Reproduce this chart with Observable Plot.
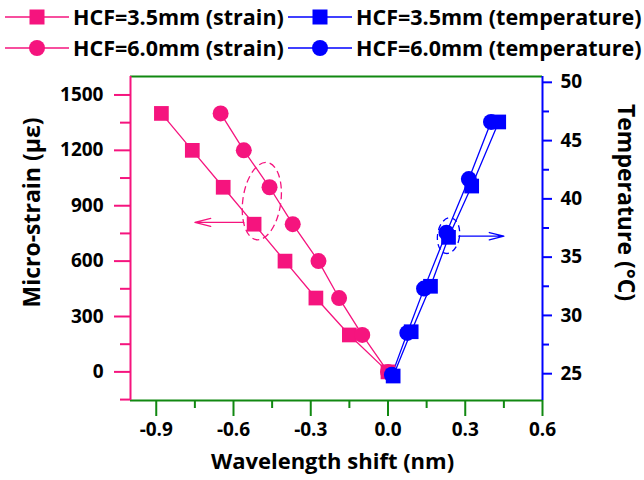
<!DOCTYPE html>
<html><head><meta charset="utf-8">
<script src="https://cdn.jsdelivr.net/npm/d3@7"></script>
<script src="https://cdn.jsdelivr.net/npm/@observablehq/plot@0.6"></script>
<style>
body{margin:0;background:#fff;font-family:"Open Sans",sans-serif;}
#wrap{position:relative;width:644px;height:480px;overflow:hidden;}
#wrap svg.plot{position:absolute;left:0;top:0;}
.leg{position:absolute;font-weight:700;font-size:21.5px;line-height:1;white-space:nowrap;color:#000;transform:translateY(-50%);}
.ico{position:absolute;}
</style></head><body><div id="wrap"></div>
<script>
// ---- data ----
const strainLevels = [1400, 1200, 1000, 800, 600, 400, 200, 0];
const shiftStrain35 = [-0.88, -0.76, -0.64, -0.52, -0.40, -0.28, -0.15, 0.0];
const shiftStrain60 = [-0.65, -0.56, -0.46, -0.37, -0.27, -0.19, -0.10, 0.0];
const shiftTemp35 = [0.02, 0.09, 0.165, 0.235, 0.325, 0.43];
const temp35 = [24.8, 28.6, 32.5, 36.7, 41.1, 46.6];
const shiftTemp60 = [0.015, 0.075, 0.14, 0.227, 0.314, 0.40];
const temp60 = [24.9, 28.5, 32.3, 37.1, 41.7, 46.6];

const xTicks = [-0.9, -0.6, -0.3, 0.0, 0.3, 0.6];
const xMinor = [-0.75, -0.45, -0.15, 0.15, 0.45];
const yTicks = [0, 300, 600, 900, 1200, 1500];
const yMinor = [-150, 150, 450, 750, 1050, 1350];
const tTicks = [25, 30, 35, 40, 45, 50];
const tMinor = [27.5, 32.5, 37.5, 42.5, 47.5];

const legendLabels = ["HCF=3.5mm (strain)", "HCF=3.5mm (temperature)", "HCF=6.0mm (strain)", "HCF=6.0mm (temperature)"];

const xDomain = [-1.0, 0.6];
const yDomain = [-155, 1600];
const tDomain = [22.7, 50.5];

const pink = "#F5147E", blue = "#0000FF", green = "#118811";

// map temperature onto the strain y scale (secondary axis)
const tToY = t => yDomain[0] + (t - tDomain[0]) / (tDomain[1] - tDomain[0]) * (yDomain[1] - yDomain[0]);
const yToT = y => tDomain[0] + (y - yDomain[0]) / (yDomain[1] - yDomain[0]) * (tDomain[1] - tDomain[0]);

const s35 = strainLevels.map((v, i) => ({x: shiftStrain35[i], y: v}));
const s60 = strainLevels.map((v, i) => ({x: shiftStrain60[i], y: v}));
const t35 = temp35.map((t, i) => ({x: shiftTemp35[i], y: tToY(t)}));
const t60 = temp60.map((t, i) => ({x: shiftTemp60[i], y: tToY(t)}));

// annotation: dashed ellipses and arrows
const pinkEllipse = [{x: -0.49, y: 925}];
const blueEllipse = [{x: 0.235, y: tToY(36.85)}];
const pinkArrow = [{x1: -0.56, y1: 810, x2: -0.75, y2: 810}];
const blueArrow = [{x1: 0.275, y1: tToY(36.8), x2: 0.45, y2: tToY(36.8)}];

function ellipseSymbol(rx, ry) {
  const k = 0.5523;
  return {draw(c) {
    c.moveTo(rx, 0);
    c.bezierCurveTo(rx, ry * k, rx * k, ry, 0, ry);
    c.bezierCurveTo(-rx * k, ry, -rx, ry * k, -rx, 0);
    c.bezierCurveTo(-rx, -ry * k, -rx * k, -ry, 0, -ry);
    c.bezierCurveTo(rx * k, -ry, rx, -ry * k, rx, 0);
    c.closePath();
  }};
}

const font = {fontSize: 19, fontWeight: "bold", fill: "black"};
const titleFont = {fontWeight: "bold", fill: "black", textAnchor: "middle"};

const chart = Plot.plot({
  width: 644, height: 480,
  marginTop: 76, marginBottom: 80, marginLeft: 130, marginRight: 102,
  style: {fontFamily: "Open Sans, sans-serif", background: "transparent"},
  x: {domain: xDomain, axis: null},
  y: {domain: yDomain, axis: null},
  marks: [
    // frame lines
    Plot.ruleY([yDomain[1]], {stroke: green, strokeWidth: 2}),
    Plot.ruleY([yDomain[0]], {stroke: green, strokeWidth: 2}),
    Plot.ruleX([xDomain[0]], {stroke: pink, strokeWidth: 2}),
    Plot.ruleX([xDomain[1]], {stroke: blue, strokeWidth: 2}),
    // x axis
    Plot.axisX({ticks: xTicks, tickSize: 16, tickPadding: 6, strokeWidth: 2, stroke: green, ...font, tickFormat: d => d3.format(".1f")(d).replace("−", "-")}),
    Plot.axisX({ticks: xMinor, tickSize: 8, strokeWidth: 2, stroke: green, tickFormat: () => ""}),
    // left axis
    Plot.axisY({anchor: "left", ticks: yTicks, tickSize: 16, tickPadding: 11, strokeWidth: 2, stroke: pink, ...font, tickFormat: d => String(d)}),
    Plot.axisY({anchor: "left", ticks: yMinor, tickSize: 10, strokeWidth: 2, stroke: pink, tickFormat: () => ""}),
    // right axis
    Plot.axisY({anchor: "right", ticks: tTicks.map(tToY), tickSize: 9, tickPadding: 9, strokeWidth: 2, stroke: blue, ...font, tickFormat: v => String(Math.round(yToT(v)))}),
    Plot.axisY({anchor: "right", ticks: tMinor.map(tToY), tickSize: 6, strokeWidth: 2, stroke: blue, tickFormat: () => ""}),
    // axis titles
    Plot.text(["Wavelength shift (nm)"], {frameAnchor: "bottom", dx: -4, dy: 68, fontSize: 22, ...titleFont}),
    Plot.text(["Micro-strain (με)"], {frameAnchor: "left", dx: -98, dy: -26, rotate: -90, fontSize: 23, ...titleFont}),
    Plot.text(["Temperature (°C)"], {frameAnchor: "right", dx: 83, dy: -36, rotate: 90, fontSize: 23, ...titleFont}),
    // lines
    Plot.line(s35, {x: "x", y: "y", stroke: pink, strokeWidth: 1.3}),
    Plot.line(s60, {x: "x", y: "y", stroke: pink, strokeWidth: 1.3}),
    Plot.line(t35, {x: "x", y: "y", stroke: blue, strokeWidth: 1.3}),
    Plot.line(t60, {x: "x", y: "y", stroke: blue, strokeWidth: 1.3}),
    // markers
    Plot.dot(s35, {x: "x", y: "y", symbol: "square", r: 8.3, fill: pink, stroke: null}),
    Plot.dot(s60, {x: "x", y: "y", symbol: "circle", r: 8, fill: pink, stroke: null}),
    Plot.dot(t35, {x: "x", y: "y", symbol: "square", r: 8.3, fill: blue, stroke: null}),
    Plot.dot(t60, {x: "x", y: "y", symbol: "circle", r: 8, fill: blue, stroke: null}),
    // annotations
    Plot.dot(pinkEllipse, {x: "x", y: "y", symbol: ellipseSymbol(19, 39), rotate: 8, fill: "none", stroke: pink, strokeWidth: 1.3, strokeDasharray: "7,4"}),
    Plot.dot(blueEllipse, {x: "x", y: "y", symbol: ellipseSymbol(11, 18), rotate: 8, fill: "none", stroke: blue, strokeWidth: 1.3, strokeDasharray: "6,4"}),
    Plot.arrow(pinkArrow, {x1: "x1", y1: "y1", x2: "x2", y2: "y2", stroke: pink, strokeWidth: 1.3, headAngle: 28, headLength: 26}),
    Plot.arrow(blueArrow, {x1: "x1", y1: "y1", x2: "x2", y2: "y2", stroke: blue, strokeWidth: 1.3, headAngle: 28, headLength: 26})
  ]
});
chart.classList.add("plot");
const wrap = document.getElementById("wrap");
wrap.appendChild(chart);

// ---- legend (HTML above the plot) ----
function icon(color, shape, left, cy, w) {
  const ns = "http://www.w3.org/2000/svg";
  const s = document.createElementNS(ns, "svg");
  s.setAttribute("width", w); s.setAttribute("height", 20);
  s.setAttribute("class", "ico");
  s.style.left = left + "px"; s.style.top = (cy - 10) + "px";
  const l = document.createElementNS(ns, "line");
  l.setAttribute("x1", 0); l.setAttribute("x2", w); l.setAttribute("y1", 10); l.setAttribute("y2", 10);
  l.setAttribute("stroke", color); l.setAttribute("stroke-width", 1.3);
  s.appendChild(l);
  if (shape === "square") {
    const r = document.createElementNS(ns, "rect");
    r.setAttribute("x", w / 2 - 7.5); r.setAttribute("y", 2.5); r.setAttribute("width", 15); r.setAttribute("height", 15);
    r.setAttribute("fill", color); s.appendChild(r);
  } else {
    const c = document.createElementNS(ns, "circle");
    c.setAttribute("cx", w / 2); c.setAttribute("cy", 10); c.setAttribute("r", 8);
    c.setAttribute("fill", color); s.appendChild(c);
  }
  wrap.appendChild(s);
}
function label(text, left, cy) {
  const d = document.createElement("div");
  d.className = "leg"; d.textContent = text;
  d.style.left = left + "px"; d.style.top = cy + "px";
  wrap.appendChild(d);
}
const rows = [17, 48];
const shapes = ["square", "circle"];
rows.forEach((cy, r) => {
  icon(pink, shapes[r], 5, cy, 64);
  label(legendLabels[r * 2], 73, cy);
  icon(blue, shapes[r], 288, cy, 64);
  label(legendLabels[r * 2 + 1], 356, cy);
});
</script></body></html>
